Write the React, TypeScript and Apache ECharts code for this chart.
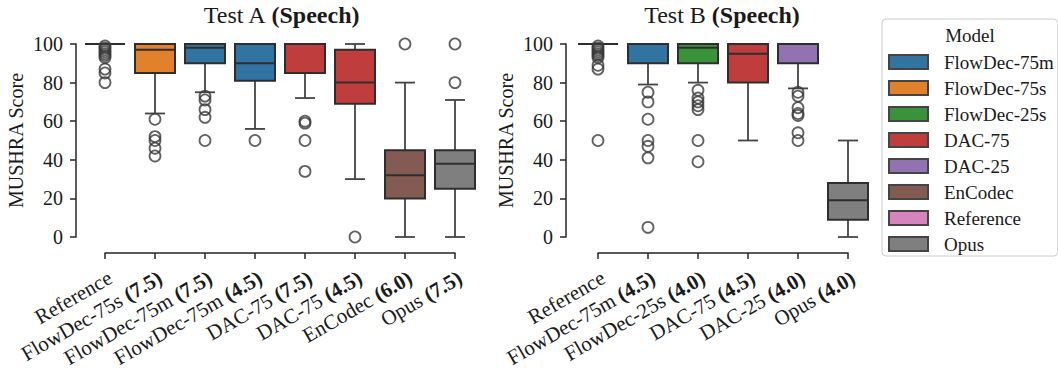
import React, { useEffect, useRef } from 'react';
import * as echarts from 'echarts';

const FONT = '"Liberation Serif", "DejaVu Serif", serif';
const TEXT = '#1a1a1a';
const LINE = '#262626';
const BOX_EDGE = '#2e2e2e';
const WHISKER = '#444444';

// Legend models and their colours
const legendModels = ['FlowDec-75m', 'FlowDec-75s', 'FlowDec-25s', 'DAC-75', 'DAC-25', 'EnCodec', 'Reference', 'Opus'];
const modelColors = ['#3274a1', '#e1812c', '#3a923a', '#c03d3e', '#9372b2', '#845b53', '#d684bd', '#7f7f7f'];

const yTicks = [0, 20, 40, 60, 80, 100];

// ---------- Test A ----------
const testACategories = [
  'Reference',
  'FlowDec-75s (7.5)',
  'FlowDec-75m (7.5)',
  'FlowDec-75m (4.5)',
  'DAC-75 (7.5)',
  'DAC-75 (4.5)',
  'EnCodec (6.0)',
  'Opus (7.5)',
];
const testAModelIndex = [6, 1, 0, 0, 3, 3, 5, 7];
// [lower whisker, q1, median, q3, upper whisker]
const testABoxes = [
  [100, 100, 100, 100, 100],
  [64, 85, 97, 100, 100],
  [75, 90, 98, 100, 100],
  [56, 81, 90, 100, 100],
  [72, 85, 100, 100, 100],
  [30, 69, 80, 97, 100],
  [0, 20, 32, 45, 80],
  [0, 25, 38, 45, 71],
];
const testAOutliers = [
  [0, 80], [0, 85], [0, 87], [0, 93], [0, 94], [0, 95], [0, 96], [0, 97], [0, 98], [0, 99],
  [1, 61], [1, 52], [1, 50], [1, 46], [1, 42],
  [2, 73], [2, 71], [2, 66], [2, 62], [2, 50],
  [3, 50],
  [4, 60], [4, 59], [4, 50], [4, 34],
  [5, 0],
  [6, 100],
  [7, 80], [7, 100],
];

// ---------- Test B ----------
const testBCategories = [
  'Reference',
  'FlowDec-75m (4.5)',
  'FlowDec-25s (4.0)',
  'DAC-75 (4.5)',
  'DAC-25 (4.0)',
  'Opus (4.0)',
];
const testBModelIndex = [6, 0, 2, 3, 4, 7];
const testBBoxes = [
  [100, 100, 100, 100, 100],
  [79, 90, 100, 100, 100],
  [80, 90, 98, 100, 100],
  [50, 80, 95, 100, 100],
  [77, 90, 100, 100, 100],
  [0, 9, 19, 28, 50],
];
const testBOutliers = [
  [0, 99], [0, 98], [0, 97], [0, 96], [0, 95], [0, 94], [0, 93], [0, 89], [0, 87], [0, 50],
  [1, 75], [1, 70], [1, 61], [1, 50], [1, 47], [1, 41], [1, 5],
  [2, 76], [2, 72], [2, 70], [2, 68], [2, 66], [2, 50], [2, 39],
  [4, 75], [4, 73], [4, 67], [4, 64], [4, 63], [4, 54], [4, 50],
];

const labelFormatter = (v: string) => {
  const i = v.indexOf(' (');
  if (i < 0) return `{n|${v}}`;
  return `{n|${v.slice(0, i)} }{b|${v.slice(i + 1)}}`;
};

const richLabel = {
  n: { fontFamily: FONT, fontSize: 21, color: TEXT },
  b: { fontFamily: FONT, fontSize: 21, color: TEXT, fontWeight: 'bold' },
};

function renderBox(params: any, api: any) {
  const idx = api.value(0);
  const mn = api.value(1);
  const q1 = api.value(2);
  const md = api.value(3);
  const q3 = api.value(4);
  const mx = api.value(5);
  const color = modelColors[api.value(6)];
  const band = api.size([1, 0])[0];
  const bw = band * 0.8;
  const cx = api.coord([idx, md])[0];
  const yMn = api.coord([idx, mn])[1];
  const yQ1 = api.coord([idx, q1])[1];
  const yMd = api.coord([idx, md])[1];
  const yQ3 = api.coord([idx, q3])[1];
  const yMx = api.coord([idx, mx])[1];
  const wStyle = { stroke: WHISKER, lineWidth: 1.8 };
  return {
    type: 'group',
    children: [
      { type: 'line', shape: { x1: cx, y1: yQ3, x2: cx, y2: yMx }, style: wStyle },
      { type: 'line', shape: { x1: cx, y1: yQ1, x2: cx, y2: yMn }, style: wStyle },
      { type: 'line', shape: { x1: cx - bw / 4, y1: yMx, x2: cx + bw / 4, y2: yMx }, style: wStyle },
      { type: 'line', shape: { x1: cx - bw / 4, y1: yMn, x2: cx + bw / 4, y2: yMn }, style: wStyle },
      {
        type: 'rect',
        shape: { x: cx - bw / 2, y: yQ3, width: bw, height: yQ1 - yQ3 },
        style: { fill: color, stroke: BOX_EDGE, lineWidth: 2 },
      },
      { type: 'line', shape: { x1: cx - bw / 2, y1: yMd, x2: cx + bw / 2, y2: yMd }, style: { stroke: BOX_EDGE, lineWidth: 2 } },
    ],
  };
}

const makeXAxis = (gridIndex: number, cats: string[]) => ({
  type: 'category',
  gridIndex,
  data: cats,
  boundaryGap: false,
  position: 'bottom',
  offset: 16,
  axisLine: { show: true, onZero: false, lineStyle: { color: LINE, width: 1.5 } },
  axisTick: { show: true, length: 6, lineStyle: { color: LINE, width: 1.5 } },
  axisLabel: {
    rotate: 30,
    margin: 14,
    align: 'right',
    verticalAlign: 'top',
    formatter: labelFormatter,
    rich: richLabel,
    interval: 0,
  },
  splitLine: { show: false },
});

const makeYAxis = (gridIndex: number, offset: number) => ({
  type: 'value',
  gridIndex,
  min: 0,
  max: 100,
  interval: 20,
  offset,
  name: 'MUSHRA Score',
  nameLocation: 'middle',
  nameGap: 50,
  nameTextStyle: { fontFamily: FONT, fontSize: 20, color: TEXT },
  axisLine: { show: true, onZero: false, lineStyle: { color: LINE, width: 1.5 } },
  axisTick: { show: true, length: 6, lineStyle: { color: LINE, width: 1.5 } },
  axisLabel: {
    fontFamily: FONT,
    fontSize: 20,
    color: TEXT,
    margin: 13,
    formatter: (v: number) => (yTicks.includes(v) ? String(v) : ''),
  },
  splitLine: { show: false },
});

const boxData = (boxes: number[][], models: number[]) =>
  boxes.map((b, i) => [i, b[0], b[1], b[2], b[3], b[4], models[i]]);

export default function App() {
  const ref = useRef<HTMLDivElement>(null);
  useEffect(() => {
    if (!ref.current) return;
    const chart = echarts.init(ref.current, undefined, { renderer: 'svg' });
    const outlierStyle = {
      color: 'rgba(0,0,0,0)',
      borderColor: '#3a3a3a',
      borderWidth: 1.8,
    };
    const titleRich = {
      r: { fontFamily: FONT, fontSize: 24, fill: TEXT },
      b: { fontFamily: FONT, fontSize: 24, fill: TEXT, fontWeight: 'bold' },
    };
    chart.setOption({
      animation: false,
      backgroundColor: '#ffffff',
      grid: [
        { left: 105, top: 44, width: 350, height: 193 },
        { left: 598, top: 44, width: 250, height: 193 },
      ],
      xAxis: [makeXAxis(0, testACategories), makeXAxis(1, testBCategories)],
      yAxis: [makeYAxis(0, 29), makeYAxis(1, 32)],
      legend: {
        orient: 'vertical',
        left: 882,
        top: 19,
        data: legendModels,
        icon: 'rect',
        itemWidth: 39,
        itemHeight: 14,
        itemGap: 6,
        padding: [33, 4, 2, 6],
        borderColor: '#cccccc',
        borderWidth: 1,
        borderRadius: 4,
        backgroundColor: '#ffffff',
        selectedMode: false,
        textStyle: { fontFamily: FONT, fontSize: 19, color: TEXT, lineHeight: 20, padding: [0, 0, 0, 11] },
      },
      graphic: [
        {
          type: 'text',
          x: 281,
          y: 3,
          z: 10,
          style: { text: '{r|Test A }{b|(Speech)}', align: 'center', verticalAlign: 'top', rich: titleRich },
        },
        {
          type: 'text',
          x: 722,
          y: 3,
          z: 10,
          style: { text: '{r|Test B }{b|(Speech)}', align: 'center', verticalAlign: 'top', rich: titleRich },
        },
        {
          type: 'text',
          x: 970,
          y: 26,
          z: 10,
          style: { text: 'Model', align: 'center', verticalAlign: 'top', fontFamily: FONT, fontSize: 19, fill: TEXT },
        },
      ],
      series: [
        ...legendModels.map((name, i) => ({
          type: 'bar',
          name,
          xAxisIndex: 0,
          yAxisIndex: 0,
          data: [],
          itemStyle: { color: modelColors[i], borderColor: '#444444', borderWidth: 1.5 },
        })),
        {
          type: 'custom',
          name: 'Test A boxes',
          xAxisIndex: 0,
          yAxisIndex: 0,
          renderItem: renderBox,
          data: boxData(testABoxes, testAModelIndex),
          clip: false,
          encode: { x: 0, y: [1, 2, 3, 4, 5] },
          z: 2,
        },
        {
          type: 'custom',
          name: 'Test B boxes',
          xAxisIndex: 1,
          yAxisIndex: 1,
          renderItem: renderBox,
          data: boxData(testBBoxes, testBModelIndex),
          clip: false,
          encode: { x: 0, y: [1, 2, 3, 4, 5] },
          z: 2,
        },
        {
          type: 'scatter',
          name: 'Test A outliers',
          xAxisIndex: 0,
          yAxisIndex: 0,
          data: testAOutliers,
          symbol: 'circle',
          symbolSize: 11,
          itemStyle: outlierStyle,
          clip: false,
          z: 3,
        },
        {
          type: 'scatter',
          name: 'Test B outliers',
          xAxisIndex: 1,
          yAxisIndex: 1,
          data: testBOutliers,
          symbol: 'circle',
          symbolSize: 11,
          itemStyle: outlierStyle,
          clip: false,
          z: 3,
        },
      ],
    });
    return () => chart.dispose();
  }, []);
  return <div ref={ref} style={{ position: 'fixed', left: 0, top: 0, width: 1058, height: 377 }} />;
}
